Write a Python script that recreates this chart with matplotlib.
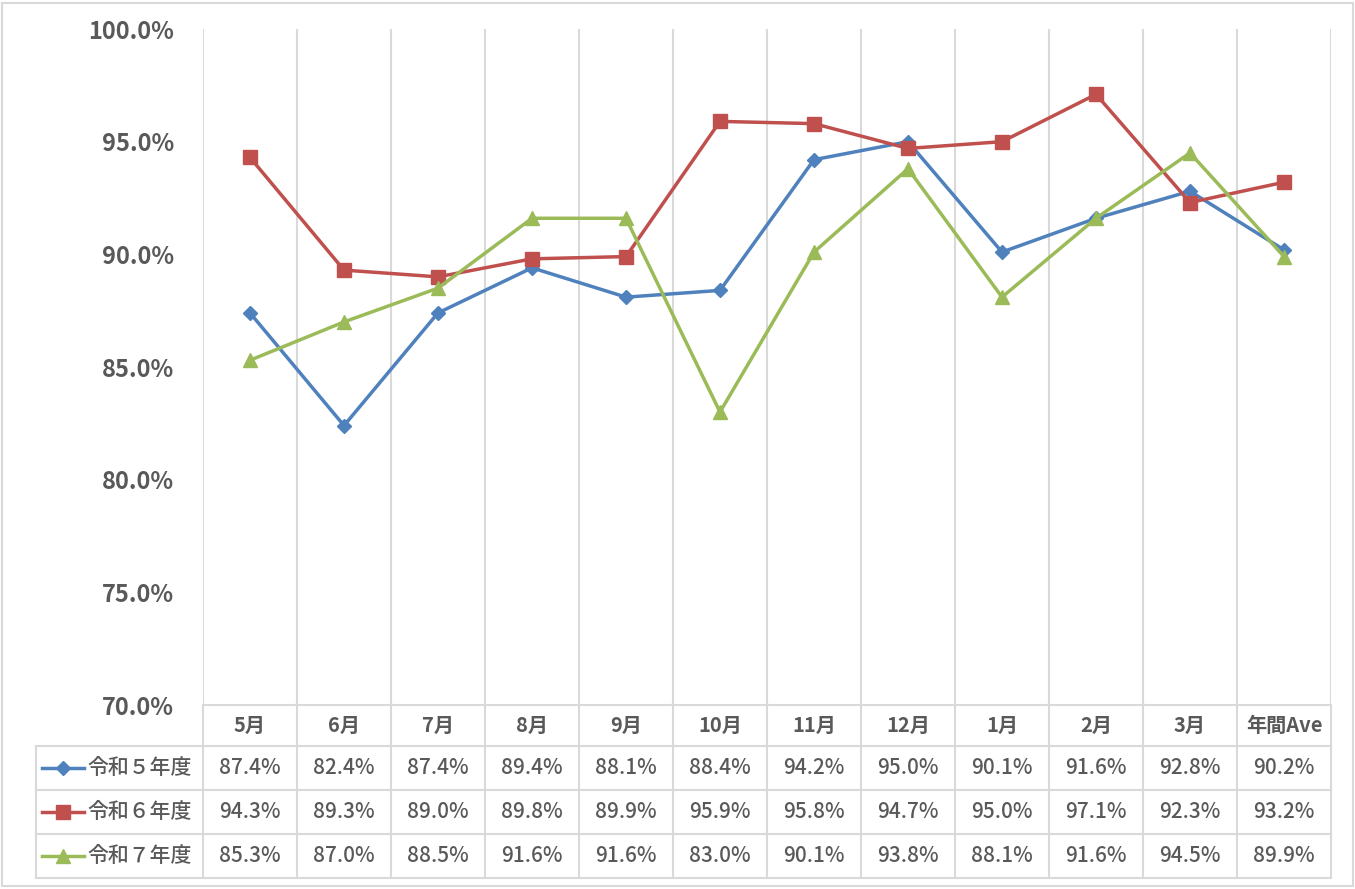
import matplotlib
matplotlib.use("Agg")
import matplotlib.pyplot as plt
from matplotlib.patches import Rectangle
from matplotlib.lines import Line2D

plt.rcParams['font.family'] = ['Noto Sans CJK JP', 'DejaVu Sans']

categories = ["5月", "6月", "7月", "8月", "9月", "10月", "11月", "12月", "1月", "2月", "3月", "年間Ave"]
series_names = ["令和５年度", "令和６年度", "令和７年度"]
r5 = [87.4, 82.4, 87.4, 89.4, 88.1, 88.4, 94.2, 95.0, 90.1, 91.6, 92.8, 90.2]
r6 = [94.3, 89.3, 89.0, 89.8, 89.9, 95.9, 95.8, 94.7, 95.0, 97.1, 92.3, 93.2]
r7 = [85.3, 87.0, 88.5, 91.6, 91.6, 83.0, 90.1, 93.8, 88.1, 91.6, 94.5, 89.9]
y_ticks = [70, 75, 80, 85, 90, 95, 100]

series = [r5, r6, r7]
colors = ["#4F81BD", "#C0504D", "#9BBB59"]
markers = ["D", "s", "^"]
msizes = [7, 10, 10]

W, H = 1355, 889
fig = plt.figure(figsize=(W / 100, H / 100), dpi=100)

# layout in pixels
px_left, px_right = 203, 1331
px_top, px_bottom = 29, 705
table_left = 36
row_edges = [705, 746, 790, 834, 878]
grid_c = "#D9D9D9"
text_c = "#595959"

# figure border
fig.patches.append(Rectangle((2 / W, 3 / H), (W - 4) / W, (H - 6) / H, transform=fig.transFigure,
                             fill=False, edgecolor=grid_c, linewidth=1.5))

ax = fig.add_axes([px_left / W, 1 - px_bottom / H, (px_right - px_left) / W, (px_bottom - px_top) / H])
n = len(categories)
xs = [i + 0.5 for i in range(n)]
for s, c, m, ms in zip(series, colors, markers, msizes):
    ax.plot(xs, s, color=c, marker=m, markersize=ms, linewidth=2.5, zorder=3)
ax.set_xlim(0, n)
ax.set_ylim(70, 100)
ax.set_yticks(y_ticks)
ax.set_yticklabels([f"{v:.1f}%" for v in y_ticks], fontsize=17, fontweight='bold', color=text_c)
ax.tick_params(axis='y', length=0, pad=21)
ax.set_xticks([])
for sp in ax.spines.values():
    sp.set_visible(False)
for k in range(n + 1):
    ax.axvline(k, color=grid_c, linewidth=1.5, zorder=1)

# table axes in pixel coords
tax = fig.add_axes([0, 0, 1, 1], facecolor='none')
tax.set_xlim(0, W)
tax.set_ylim(H, 0)
tax.axis('off')
colw = (px_right - px_left) / n

# horizontal lines
tax.plot([px_left, px_right], [row_edges[0]] * 2, color=grid_c, lw=1.5)
for y in row_edges[1:]:
    tax.plot([table_left, px_right], [y, y], color=grid_c, lw=1.5)
# vertical lines
for k in range(n + 1):
    x = px_left + k * colw
    tax.plot([x, x], [row_edges[0], row_edges[-1]], color=grid_c, lw=1.5)
tax.plot([table_left, table_left], [row_edges[1], row_edges[-1]], color=grid_c, lw=1.5)

# header
for i, cat in enumerate(categories):
    cx = px_left + (i + 0.5) * colw
    tax.text(cx, (row_edges[0] + row_edges[1]) / 2, cat, ha='center', va='center',
             fontsize=14.5, fontweight='bold', color=text_c)

# rows
for r, (name, s, c, m, ms) in enumerate(zip(series_names, series, colors, markers, msizes)):
    cy = (row_edges[r + 1] + row_edges[r + 2]) / 2
    tax.add_line(Line2D([42, 84], [cy, cy], color=c, lw=2.5))
    tax.add_line(Line2D([63], [cy], color=c, marker=m, markersize=ms, lw=0))
    tax.text(87, cy, name, ha='left', va='center', fontsize=15, fontweight='medium', color=text_c)
    for i, v in enumerate(s):
        cx = px_left + (i + 0.5) * colw
        tax.text(cx, cy, f"{v:.1f}%", ha='center', va='center', fontsize=15,
                 fontweight='medium', color=text_c)

fig.savefig("out.png", dpi=100)
